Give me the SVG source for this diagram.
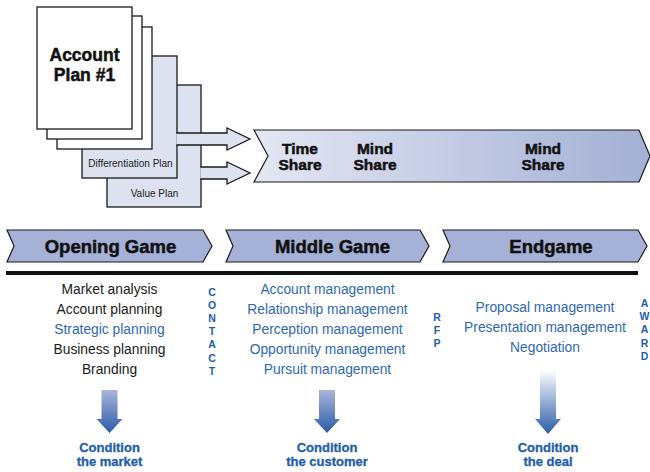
<svg xmlns="http://www.w3.org/2000/svg" width="650" height="472" viewBox="0 0 650 472">
<style>
.pg{fill:#fff;stroke:#1a1a1a;stroke-width:1.3}
.pl{fill:#dde1f0;stroke:#1a1a1a;stroke-width:1.3}
.ph{fill:#a5b1d7;stroke:#1a1a1a;stroke-width:1.2}
.t{font-family:"Liberation Sans",Arial,sans-serif}
.b{font-family:"Liberation Sans",Arial,sans-serif;font-weight:bold;fill:#111;stroke:#111;stroke-width:0.5}
.sm{font-size:10px;fill:#222}
.ls{font-size:13.8px;text-anchor:middle}
.blk{fill:#1a1a1a}
.blu{fill:#2f68b0}
.vl{font-family:"Liberation Sans",Arial,sans-serif;font-weight:bold;font-size:10.5px;fill:#2060aa;text-anchor:middle}
.cd{font-family:"Liberation Sans",Arial,sans-serif;font-weight:bold;font-size:13px;fill:#1f5ea8;stroke:#1f5ea8;stroke-width:0.3;text-anchor:middle}
.mid{text-anchor:middle}
</style>
<defs>
<linearGradient id="ban" x1="0" y1="0" x2="1" y2="0">
<stop offset="0" stop-color="#e4e7f3"/>
<stop offset="1" stop-color="#a3afd4"/>
</linearGradient>
<linearGradient id="dn" x1="0" y1="0" x2="0" y2="1">
<stop offset="0" stop-color="#aab5da"/>
<stop offset="1" stop-color="#2a5ba8"/>
</linearGradient>
<linearGradient id="dn2" x1="0" y1="0" x2="0" y2="1">
<stop offset="0" stop-color="#ffffff"/>
<stop offset="1" stop-color="#2a5ba8"/>
</linearGradient>
</defs>

<g id="value-plan">
<rect class="pl" x="107" y="85" width="94" height="122"/>
<text class="t sm mid" x="154.5" y="197">Value Plan</text>
</g>
<g id="differentiation-plan">
<rect class="pl" x="82" y="56" width="95" height="122"/>
<text class="t sm mid" x="130.5" y="167">Differentiation Plan</text>
</g>

<g id="connectors">
<path class="pl" d="M176.3,133 H227 V128 L250,139 L227,150 V145 H176.3"/>
<path class="pl" d="M200.3,167 H227 V162 L250,173 L227,184 V179 H200.3"/>
<path d="M101.5,390 H117.5 V419 H122.5 L109.5,433 L96.5,419 H101.5 Z" fill="url(#dn)"/>
<path d="M319,390 H335 V419 H340 L327,433 L314,419 H319 Z" fill="url(#dn)"/>
<path d="M540,370 H556 V419 H561 L548,434 L535,419 H540 Z" fill="url(#dn2)"/>
</g>

<g id="account-plan">
<rect class="pg" x="57" y="27" width="95" height="122"/>
<rect class="pg" x="47" y="16" width="95" height="123"/>
<rect class="pg" x="37" y="7" width="95" height="122"/>
<text class="b mid" x="84.5" y="61" font-size="17.5">Account</text>
<text class="b mid" x="84.5" y="81" font-size="17.5">Plan #1</text>
</g>

<g id="share-banner">
<path d="M254,130 H639 L650,156 L639,182 H254 L268,156 Z" fill="url(#ban)" stroke="#1a1a1a" stroke-width="1.2"/>
<text class="b mid" font-size="15.5"><tspan x="300" y="154">Time</tspan><tspan x="300" y="170">Share</tspan></text>
<text class="b mid" font-size="15.5"><tspan x="375" y="154">Mind</tspan><tspan x="375" y="170">Share</tspan></text>
<text class="b mid" font-size="15.5"><tspan x="543" y="154">Mind</tspan><tspan x="543" y="170">Share</tspan></text>
</g>

<g id="opening-game">
<path class="ph" d="M7,230 H203 L212,246 L203,262 H7 L14,246 Z"/>
<text class="b mid" x="110.5" y="253" font-size="18.5">Opening Game</text>
</g>
<g id="middle-game">
<path class="ph" d="M226,230 H420 L429,246 L420,262 H226 L233,246 Z"/>
<text class="b mid" x="332.5" y="253" font-size="18.5">Middle Game</text>
</g>
<g id="endgame">
<path class="ph" d="M443,230 H638 L647,246 L638,262 H443 L450,246 Z"/>
<text class="b mid" x="551" y="253" font-size="18.5">Endgame</text>
</g>

<rect id="timeline" x="6" y="271" width="632" height="4" fill="#111"/>

<g id="opening-list">
<text class="t ls blk" x="109.5" y="293.5">Market analysis</text>
<text class="t ls blk" x="109.5" y="313.5">Account planning</text>
<text class="t ls blu" x="109.5" y="333.5">Strategic planning</text>
<text class="t ls blk" x="109.5" y="353.5">Business planning</text>
<text class="t ls blk" x="109.5" y="373.5">Branding</text>
</g>
<g id="contact">
<text class="vl" x="212" y="295.5">C</text>
<text class="vl" x="212" y="308.7">O</text>
<text class="vl" x="212" y="321.9">N</text>
<text class="vl" x="212" y="335.1">T</text>
<text class="vl" x="212" y="348.3">A</text>
<text class="vl" x="212" y="361.5">C</text>
<text class="vl" x="212" y="374.7">T</text>
</g>
<g id="middle-list">
<text class="t ls blu" x="327.5" y="293.5">Account management</text>
<text class="t ls blu" x="327.5" y="313.5">Relationship management</text>
<text class="t ls blu" x="327.5" y="333.5">Perception management</text>
<text class="t ls blu" x="327.5" y="353.5">Opportunity management</text>
<text class="t ls blu" x="327.5" y="373.5">Pursuit management</text>
</g>
<g id="rfp">
<text class="vl" x="437" y="320.5">R</text>
<text class="vl" x="437" y="333.8">F</text>
<text class="vl" x="437" y="347">P</text>
</g>
<g id="endgame-list">
<text class="t ls blu" x="545" y="311.5">Proposal management</text>
<text class="t ls blu" x="545" y="331.5">Presentation management</text>
<text class="t ls blu" x="545" y="351.5">Negotiation</text>
</g>
<g id="award">
<text class="vl" x="644.5" y="307">A</text>
<text class="vl" x="644.5" y="320.2">W</text>
<text class="vl" x="644.5" y="333.4">A</text>
<text class="vl" x="644.5" y="346.6">R</text>
<text class="vl" x="644.5" y="359.8">D</text>
</g>

<g id="condition-market">
<text class="cd" x="109.5" y="452">Condition</text>
<text class="cd" x="109.5" y="466">the market</text>
</g>
<g id="condition-customer">
<text class="cd" x="327" y="452">Condition</text>
<text class="cd" x="327" y="466">the customer</text>
</g>
<g id="condition-deal">
<text class="cd" x="548" y="452">Condition</text>
<text class="cd" x="548" y="466">the deal</text>
</g>
</svg>
